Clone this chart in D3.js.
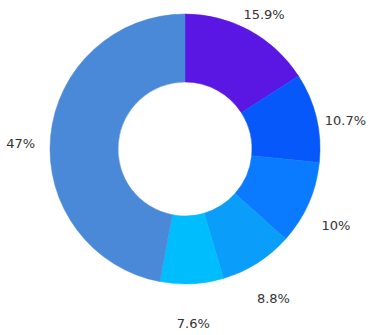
<!DOCTYPE html>
<html><head><meta charset="utf-8">
<script src="https://cdn.jsdelivr.net/npm/d3@7"></script>
<style>html,body{margin:0;padding:0;background:#fff;}svg{display:block;}</style>
</head><body>
<svg id="chart" width="379" height="335"></svg>
<script>
const categories = ["A", "B", "C", "D", "E", "F"];
const values = [15.9, 10.7, 10, 8.8, 7.6, 47];
const labels = ["15.9%", "10.7%", "10%", "8.8%", "7.6%", "47%"];
const colors = ["#5a17e4", "#0758fb", "#0a7bff", "#0a9dfa", "#00bdfe", "#4a88d8"];

const svg = d3.select("#chart");
const cx = 185, cy = 149, rOuter = 135, rInner = 67, rLabel = 165;
const g = svg.append("g").attr("transform", `translate(${cx},${cy})`);

const data = categories.map((c, i) => ({c, v: values[i], label: labels[i], color: colors[i]}));
const pie = d3.pie().value(d => d.v).sort(null);
const arc = d3.arc().innerRadius(rInner).outerRadius(rOuter);
const arcs = pie(data);

g.selectAll("path").data(arcs).join("path")
  .attr("d", arc)
  .attr("fill", d => d.data.color)
  .attr("stroke", d => d.data.color)
  .attr("stroke-width", 0.5);

g.selectAll("text").data(arcs).join("text")
  .attr("x", d => rLabel * Math.sin((d.startAngle + d.endAngle) / 2))
  .attr("y", d => -rLabel * Math.cos((d.startAngle + d.endAngle) / 2) + 10)
  .attr("dy", "0.35em")
  .attr("text-anchor", "middle")
  .attr("font-family", "'DejaVu Sans', Verdana, sans-serif")
  .attr("font-size", 13)
  .attr("fill", "#333")
  .text(d => d.data.label);
</script>
</body></html>
